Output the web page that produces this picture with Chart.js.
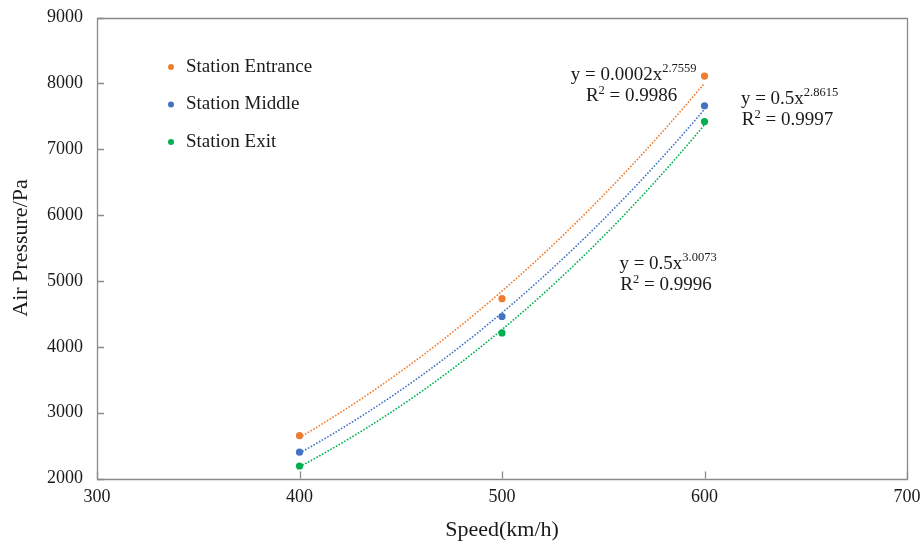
<!DOCTYPE html>
<html>
<head>
<meta charset="utf-8">
<script src="https://cdn.jsdelivr.net/npm/chart.js@4/dist/chart.umd.min.js"></script>
<style>
html,body{margin:0;padding:0;background:#fff;}
#wrap{width:921px;height:547px;position:relative;}
</style>
</head>
<body>
<div id="wrap"><canvas id="c" width="921" height="547"></canvas></div>
<script>
// ---- data ----
const speeds = [400, 500, 600];
const seriesNames = ['Station Entrance', 'Station Middle', 'Station Exit'];
const entrance = [2650, 4730, 8110];
const middle = [2400, 4460, 7660];
const exitVals = [2190, 4210, 7420];
const seriesColors = ['#ED7D31', '#4472C4', '#00B050'];
// trendline equations (as printed) and their anchor positions in data units
const eqLine1Main = ['y = 0.0002x', 'y = 0.5x', 'y = 0.5x'];
const eqLine1Sup = ['2.7559', '2.8615', '3.0073'];
const eqR2 = ['0.9986', '0.9997', '0.9996'];
const eqAnchorX = [565, 642, 582];
const eqAnchorY = [8150, 7790, 5290];
const xTicks = [300, 400, 500, 600, 700];
const yTicks = [2000, 3000, 4000, 5000, 6000, 7000, 8000, 9000];

const FONT = "'Liberation Serif', 'Times New Roman', serif";
const TXT = '#1a1a1a';
const AXIS = '#8a8a8a';

function powerFit(xs, ys) {
  const lx = xs.map(Math.log), ly = ys.map(Math.log);
  const n = xs.length;
  const mx = lx.reduce((s, v) => s + v, 0) / n;
  const my = ly.reduce((s, v) => s + v, 0) / n;
  let sxy = 0, sxx = 0;
  for (let i = 0; i < n; i++) { sxy += (lx[i] - mx) * (ly[i] - my); sxx += (lx[i] - mx) ** 2; }
  const b = sxy / sxx;
  const a = Math.exp(my - b * mx);
  return {a, b};
}

const seriesValues = [entrance, middle, exitVals];
const datasets = seriesValues.map((vals, i) => ({
  label: seriesNames[i],
  data: speeds.map((x, j) => ({x: x, y: vals[j]})),
  backgroundColor: seriesColors[i],
  borderColor: seriesColors[i],
  borderWidth: 0,
  pointRadius: 3.6,
  pointHoverRadius: 3.6,
  showLine: false
}));

const trendPlugin = {
  id: 'trend',
  beforeDatasetsDraw(chart) {
    const ctx = chart.ctx, xs = chart.scales.x, ys = chart.scales.y;
    ctx.save();
    chart.data.datasets.forEach((ds, i) => {
      const px = ds.data.map(p => p.x), py = ds.data.map(p => p.y);
      const {a, b} = powerFit(px, py);
      const x0 = Math.min(...px), x1 = Math.max(...px);
      ctx.beginPath();
      const N = 120;
      for (let k = 0; k <= N; k++) {
        const xv = x0 + (x1 - x0) * k / N;
        const X = xs.getPixelForValue(xv), Y = ys.getPixelForValue(a * Math.pow(xv, b));
        if (k === 0) ctx.moveTo(X, Y); else ctx.lineTo(X, Y);
      }
      ctx.strokeStyle = ds.borderColor;
      ctx.lineWidth = 1.6;
      ctx.setLineDash([1.6, 1.6]);
      ctx.stroke();
    });
    ctx.restore();
  }
};

const framePlugin = {
  id: 'frame',
  afterDraw(chart) {
    const ctx = chart.ctx, ca = chart.chartArea, xs = chart.scales.x, ys = chart.scales.y;
    ctx.save();
    ctx.strokeStyle = AXIS;
    ctx.lineWidth = 1.3;
    ctx.setLineDash([]);
    ctx.beginPath();
    ctx.rect(Math.round(ca.left) + 0.5, Math.round(ca.top) + 0.5, Math.round(ca.right - ca.left), Math.round(ca.bottom - ca.top));
    ctx.stroke();
    // inward tick marks
    ctx.beginPath();
    xTicks.forEach(v => {
      const X = Math.round(xs.getPixelForValue(v)) + 0.5;
      ctx.moveTo(X, ca.bottom); ctx.lineTo(X, ca.bottom - 7);
    });
    yTicks.forEach(v => {
      const Y = Math.round(ys.getPixelForValue(v)) + 0.5;
      ctx.moveTo(ca.left, Y); ctx.lineTo(ca.left + 7, Y);
    });
    ctx.stroke();

    // legend
    const lx = ca.left + 74, ly0 = ca.top + 49.5, step = 37.5;
    chart.data.datasets.forEach((ds, i) => {
      const y = ly0 + i * step;
      ctx.fillStyle = ds.backgroundColor;
      ctx.beginPath(); ctx.arc(lx, y, 3, 0, Math.PI * 2); ctx.fill();
      ctx.fillStyle = TXT;
      ctx.font = '19px ' + FONT;
      ctx.textBaseline = 'middle';
      ctx.textAlign = 'left';
      ctx.fillText(ds.label, lx + 15, y);
    });

    // equations
    const drawParts = (parts, cx, cy) => {
      let w = 0;
      parts.forEach(p => { ctx.font = p.size + 'px ' + FONT; p.w = ctx.measureText(p.t).width; w += p.w; });
      let x = cx - w / 2;
      ctx.textAlign = 'left';
      ctx.textBaseline = 'alphabetic';
      ctx.fillStyle = TXT;
      parts.forEach(p => { ctx.font = p.size + 'px ' + FONT; ctx.fillText(p.t, x, cy + p.dy); x += p.w; });
    };
    for (let i = 0; i < eqLine1Main.length; i++) {
      const cx = xs.getPixelForValue(eqAnchorX[i]);
      const cy = ys.getPixelForValue(eqAnchorY[i]);
      drawParts([{t: eqLine1Main[i], size: 19, dy: 7}, {t: eqLine1Sup[i], size: 12.5, dy: -1}], cx, cy);
      drawParts([{t: 'R', size: 19, dy: 28}, {t: '2', size: 12.5, dy: 21}, {t: ' = ' + eqR2[i], size: 19, dy: 28}], cx - 2, cy);
    }
    ctx.restore();
  }
};

function zeroPad(s) { s.paddingTop = 0; s.paddingBottom = 0; s.paddingLeft = 0; s.paddingRight = 0; }

new Chart(document.getElementById('c'), {
  type: 'scatter',
  data: {datasets: datasets},
  options: {
    responsive: false,
    animation: false,
    devicePixelRatio: 1,
    layout: {padding: {left: 0, right: 14, top: 17.5, bottom: 0}},
    plugins: {legend: {display: false}, tooltip: {enabled: false}},
    scales: {
      x: {
        type: 'linear', min: 300, max: 700,
        afterBuildTicks(s) { s.ticks = xTicks.map(v => ({value: v})); },
        afterFit(s) { s.height = 68.5; zeroPad(s); },
        grid: {display: false, drawTicks: false},
        border: {display: false},
        ticks: {color: TXT, padding: 8, font: {family: FONT, size: 18}, maxRotation: 0, callback: v => String(v)},
        title: {display: true, text: 'Speed(km/h)', color: TXT, font: {family: FONT, size: 22}, padding: {top: 0, bottom: 4}}
      },
      y: {
        type: 'linear', min: 2000, max: 9000,
        afterBuildTicks(s) { s.ticks = yTicks.map(v => ({value: v})); },
        afterFit(s) { s.width = 97; zeroPad(s); },
        grid: {display: false, drawTicks: false},
        border: {display: false},
        ticks: {color: TXT, padding: 14, font: {family: FONT, size: 18}, callback: v => String(v)},
        title: {display: true, text: 'Air Pressure/Pa', color: TXT, font: {family: FONT, size: 22}, padding: {top: 8, bottom: 0}}
      }
    }
  },
  plugins: [trendPlugin, framePlugin]
});
</script>
</body>
</html>
